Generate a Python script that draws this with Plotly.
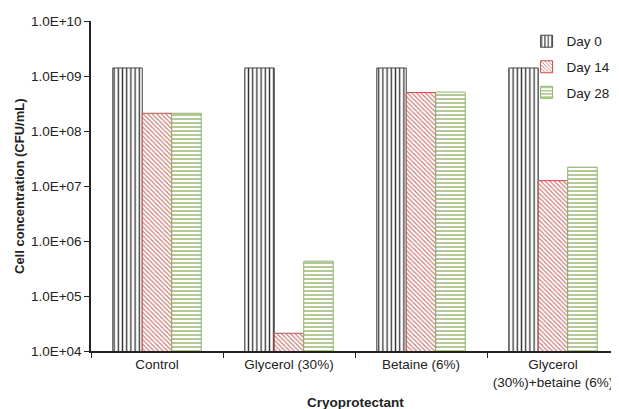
import plotly.graph_objects as go

categories = ["Control", "Glycerol (30%)", "Betaine (6%)", "Glycerol<br>(30%)+betaine (6%)"]
day0 = [1.4e9, 1.4e9, 1.4e9, 1.4e9]
day14 = [2.1e8, 2.1e4, 5.0e8, 1.25e7]
day28 = [2.1e8, 4.3e5, 5.1e8, 2.2e7]
series_names = ["Day 0", "Day 14", "Day 28"]
ytick_vals = [1e4, 1e5, 1e6, 1e7, 1e8, 1e9, 1e10]
ytick_text = ["1.0E+04", "1.0E+05", "1.0E+06", "1.0E+07", "1.0E+08", "1.0E+09", "1.0E+10"]

styles = [
    dict(shape="|", fg="#333333", line="#444444", size=4.2, sol=0.32),
    dict(shape="\\", fg="#c97a78", line="#c0504d", size=3.2, sol=0.35),
    dict(shape="-", fg="#7fa650", line="#8db460", size=4, sol=0.3),
]

fig = go.Figure()
for name, vals, st in zip(series_names, [day0, day14, day28], styles):
    fig.add_trace(go.Bar(
        x=categories, y=vals, name=name, legendgroup=name,
        marker=dict(
            color="white",
            line=dict(color=st["line"], width=1),
            pattern=dict(shape=st["shape"], fgcolor=st["fg"], bgcolor="white",
                         size=st["size"], solidity=st["sol"], fillmode="replace"),
        ),
    ))

font = "Liberation Sans, Arial, sans-serif"
fig.update_layout(
    width=611, height=401,
    margin=dict(l=83, r=0, t=13, b=58),
    paper_bgcolor="white", plot_bgcolor="white",
    barmode="group", bargap=0.33, bargroupgap=0,
    font=dict(family=font, size=13.5, color="#222222"),
    legend=dict(x=0.825, y=0.985, xanchor="left", yanchor="top",
                font=dict(size=13.5), tracegroupgap=5, bgcolor="rgba(0,0,0,0)",
                itemwidth=30),
    xaxis=dict(
        type="category", showline=True, linecolor="#222222", linewidth=1.5,
        ticks="outside", tickson="boundaries", ticklen=5, tickcolor="#222222",
        tickfont=dict(size=13.5), showgrid=False,
    ),
    yaxis=dict(
        type="log", range=[4, 10], showline=True, linecolor="#222222", linewidth=1.5,
        ticks="outside", ticklen=5, tickcolor="#222222",
        tickvals=ytick_vals, ticktext=ytick_text, tickfont=dict(size=13.5),
        showgrid=False, zeroline=False,
    ),
    annotations=[
        dict(text="<b>Cell concentration (CFU/mL)</b>", xref="paper", yref="paper",
             x=0, y=0.5, xshift=-72, textangle=-90, showarrow=False,
             xanchor="center", yanchor="middle", font=dict(size=13)),
        dict(text="<b>Cryoprotectant</b>", xref="paper", yref="paper",
             x=0.5, y=0, yshift=-51, showarrow=False,
             xanchor="center", yanchor="middle", font=dict(size=13.5)),
    ],
)

fig.write_html("out.html")
